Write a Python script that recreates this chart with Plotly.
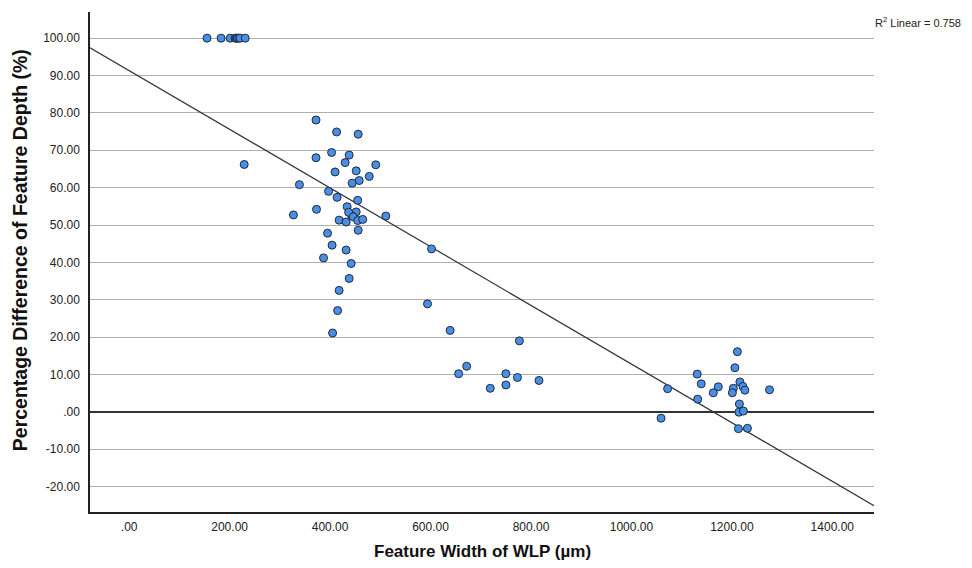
import numpy as np
import plotly.graph_objects as go

# Feature width (µm) and percentage difference of feature depth (%)
width_um = [
    155, 183, 201, 211, 213, 215, 218, 221, 231,
    229,
    372, 413, 456, 403, 438, 372, 430, 491, 410, 452, 478, 458, 444, 339,
    397, 414, 455, 434, 373, 327, 452, 443, 437, 446, 418, 432, 455, 465,
    511, 456, 395, 404, 432, 602, 387, 442, 438, 418, 594, 415, 639, 405,
    777, 672, 656, 750, 773, 816, 750, 719,
    1072, 1131, 1139, 1211, 1206, 1216, 1203, 1201, 1173, 1163, 1222, 1226,
    1275, 1132, 1215, 1214, 1223, 1059, 1213, 1231,
]
depth_pct = [
    100, 100, 100, 100, 100, 100, 100, 100, 100,
    66.2,
    78.1, 74.9, 74.3, 69.4, 68.7, 68.0, 66.7, 66.1, 64.2, 64.5, 63.0, 61.9, 61.2, 60.8,
    59.0, 57.4, 56.6, 54.9, 54.2, 52.7, 53.5, 52.5, 53.4, 52.2, 51.3, 50.8, 51.2, 51.5,
    52.4, 48.6, 47.8, 44.6, 43.3, 43.6, 41.2, 39.7, 35.7, 32.5, 28.9, 27.1, 21.8, 21.1,
    19.0, 12.2, 10.2, 10.2, 9.2, 8.4, 7.2, 6.3,
    6.2, 10.1, 7.5, 16.1, 11.8, 8.0, 6.3, 5.1, 6.7, 5.1, 6.8, 5.8,
    5.9, 3.4, 2.1, -0.1, 0.2, -1.7, -4.5, -4.4,
]

x_ticks = [0, 200, 400, 600, 800, 1000, 1200, 1400]
x_ticktext = [".00", "200.00", "400.00", "600.00", "800.00", "1000.00", "1200.00", "1400.00"]
y_ticks = [-20, -10, 0, 10, 20, 30, 40, 50, 60, 70, 80, 90, 100]
y_ticktext = ["-20.00", "-10.00", ".00", "10.00", "20.00", "30.00", "40.00",
              "50.00", "60.00", "70.00", "80.00", "90.00", "100.00"]
x_range = [-78, 1483]
y_range = [-26.8, 107]
r2_label = "R<sup>2</sup> Linear = 0.758"

slope, intercept = np.polyfit(width_um, depth_pct, 1)
fit_x = np.array(x_range, dtype=float)
fit_y = intercept + slope * fit_x

fig = go.Figure()
fig.add_trace(go.Scatter(
    x=fit_x, y=fit_y, mode="lines",
    line=dict(color="#333333", width=1.2), hoverinfo="skip", showlegend=False,
))
fig.add_trace(go.Scatter(
    x=width_um, y=depth_pct, mode="markers",
    marker=dict(size=8, color="#4A8FE6", line=dict(color="#1F2A3A", width=1)),
    showlegend=False,
))

font_family = "Liberation Sans, Arial, sans-serif"
fig.update_layout(
    width=972, height=568,
    margin=dict(l=90, r=98, t=12, b=56),
    plot_bgcolor="white", paper_bgcolor="white",
    font=dict(family=font_family, size=12, color="#222222"),
    xaxis=dict(
        range=x_range, tickvals=x_ticks, ticktext=x_ticktext,
        showgrid=False, zeroline=False, showline=True, linecolor="#222222", linewidth=1.5,
        ticks="", ticklabelstandoff=3, tickfont=dict(size=12, color="#222222"),
    ),
    yaxis=dict(
        range=y_range, tickvals=y_ticks, ticktext=y_ticktext,
        showgrid=True, gridcolor="#AFAFAF", gridwidth=1,
        zeroline=True, zerolinecolor="#333333", zerolinewidth=1.5,
        showline=True, linecolor="#222222", linewidth=1.5,
        ticks="", ticklabelstandoff=6, tickfont=dict(size=12, color="#222222"),
    ),
    annotations=[
        dict(text="<b>Percentage Difference of Feature Depth (%)</b>", xref="paper", yref="paper",
             x=-0.089, y=0.524, textangle=-90, showarrow=False,
             font=dict(size=19.5, color="#111111"), xanchor="center", yanchor="middle"),
        dict(text="<b>Feature Width of WLP (µm)</b>", xref="paper", yref="paper",
             x=0.5, y=-0.078, showarrow=False,
             font=dict(size=17, color="#111111"), xanchor="center", yanchor="middle"),
        dict(text=r2_label, xref="paper", yref="paper", x=1.0, y=1.0,
             xshift=-1, yshift=-10, showarrow=False, xanchor="left", yanchor="middle",
             font=dict(size=11, color="#222222")),
    ],
)

fig.write_html("out.html")
